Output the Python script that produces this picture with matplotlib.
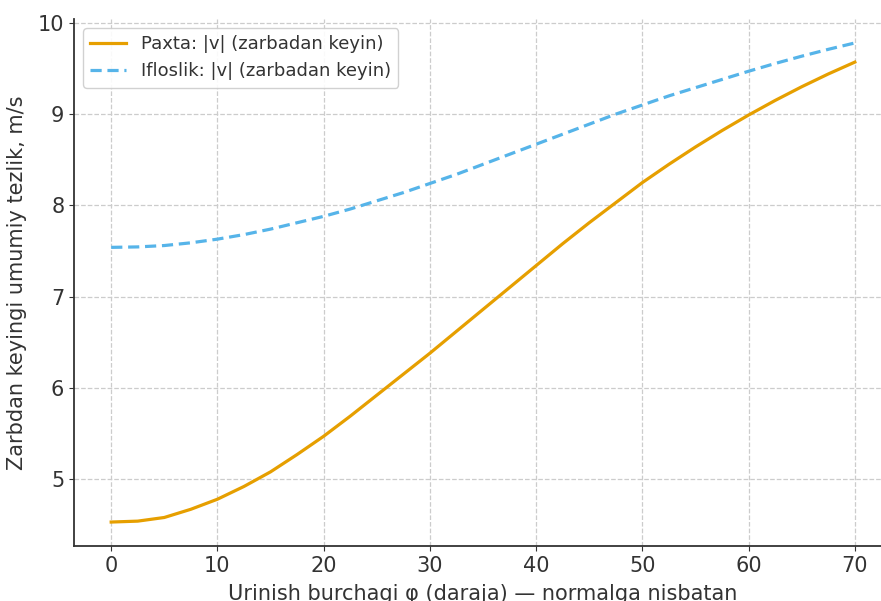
import matplotlib
matplotlib.use("Agg")
import matplotlib.pyplot as plt

angles = [0, 2.5, 5, 7.5, 10, 12.5, 15, 17.5, 20, 22.5, 25, 27.5, 30, 32.5, 35,
          37.5, 40, 42.5, 45, 47.5, 50, 52.5, 55, 57.5, 60, 62.5, 65, 67.5, 70]

paxta_v = [4.53, 4.54, 4.58, 4.67, 4.78, 4.92, 5.08, 5.27, 5.47, 5.69, 5.92,
           6.15, 6.38, 6.62, 6.86, 7.10, 7.34, 7.58, 7.81, 8.03, 8.25, 8.45,
           8.64, 8.82, 8.99, 9.15, 9.30, 9.44, 9.57]

ifloslik_v = [7.54, 7.545, 7.56, 7.59, 7.63, 7.68, 7.74, 7.81, 7.88, 7.96,
              8.05, 8.14, 8.24, 8.34, 8.45, 8.56, 8.67, 8.78, 8.89, 9.00,
              9.10, 9.20, 9.29, 9.38, 9.47, 9.555, 9.635, 9.71, 9.78]

text_color = '#333333'
plt.rcParams['font.family'] = 'DejaVu Sans'
plt.rcParams['text.color'] = text_color
plt.rcParams['axes.labelcolor'] = text_color
plt.rcParams['xtick.color'] = text_color
plt.rcParams['ytick.color'] = text_color

fig = plt.figure(figsize=(8.81, 6.01), dpi=100)
ax = fig.add_axes([74 / 881, 55 / 601, (892 - 74) / 881, (546 - 19) / 601])

ax.plot(angles, paxta_v, color='#E69F00', lw=2.3, label='Paxta: |v| (zarbadan keyin)')
ax.plot(angles, ifloslik_v, color='#56B4E9', lw=2.3, ls=(0, (3.5, 1.8)),
        label='Ifloslik: |v| (zarbadan keyin)')

ax.set_xlabel('Urinish burchagi φ (daraja) — normalga nisbatan', fontsize=15, labelpad=6)
ax.set_ylabel('Zarbdan keyingi umumiy tezlik, m/s', fontsize=15, labelpad=8)
ax.tick_params(labelsize=15, color=text_color)

ax.grid(True, ls='--', color='#cccccc', lw=0.9)
ax.spines['top'].set_visible(False)
ax.spines['right'].set_visible(False)
ax.spines['left'].set_color(text_color)
ax.spines['bottom'].set_color(text_color)
ax.spines['left'].set_linewidth(1.3)
ax.spines['bottom'].set_linewidth(1.3)

ax.legend(loc='upper left', fontsize=13, framealpha=0.9, edgecolor='#cccccc')

fig.savefig('out.png', dpi=100)
